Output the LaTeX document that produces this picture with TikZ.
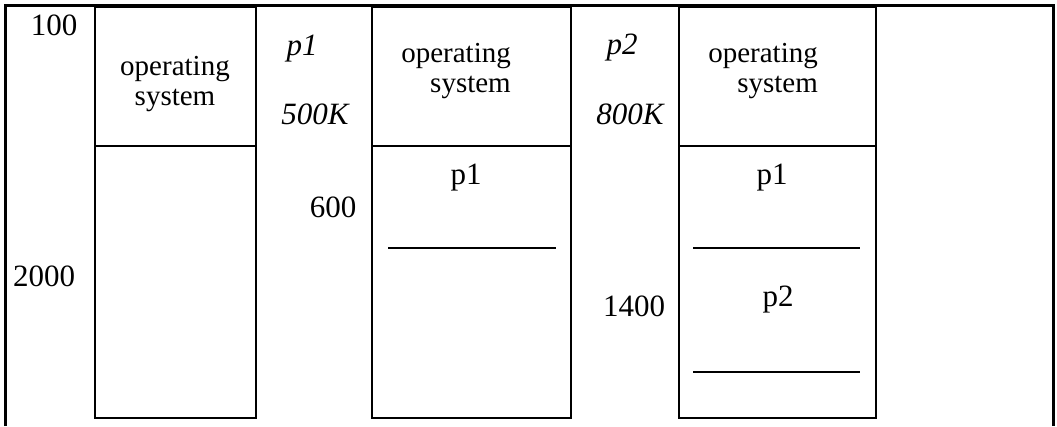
\documentclass[tikz,border=0pt]{standalone}
\usepackage{fontspec}
\setmainfont{Liberation Serif}
\begin{document}
\begin{tikzpicture}[x=1pt,y=-1pt]
\tikzstyle{every node}+=[inner sep=0pt, font=\fontsize{29}{30}\selectfont]
\tikzstyle{addr}=[font=\fontsize{31}{32}\selectfont]
\tikzstyle{memblock}=[black, line width=2.8pt]
\tikzstyle{osline}=[black, line width=2.2pt]
\tikzstyle{holeline}=[black, line width=1.4pt]
\useasboundingbox (0,0) rectangle (1057,426);
\draw [black, line width=2.8pt] (5.5,426) -- (5.5,5.5) -- (1053.5,5.5) -- (1053.5,426);
\draw [memblock] (95,7) rectangle (256,418);
\draw [osline] (95,146) -- (256,146);
\draw [memblock] (372,7) rectangle (571,418);
\draw [osline] (372,146) -- (571,146);
\draw [memblock] (679,7) rectangle (876,418);
\draw [osline] (679,146) -- (876,146);
\draw [holeline] (388,248) -- (556,248);
\draw [holeline] (693,248) -- (860,248);
\draw [holeline] (693,372) -- (860,372);
\node (a100) [addr] at (54,25) {100};
\node (a2000) [addr] at (44,276) {2000};
\node (os1) [align=center] at (175,84) {operating\\system};
\node (os2) [align=right, anchor=east] at (511,71) {operating\\system};
\node (os3) [align=right, anchor=east] at (818,71) {operating\\system};
\node (req1) [addr] at (302,48.5) {\itshape p1};
\node (size1) [addr] at (315,114) {\itshape 500K};
\node (a600) [addr] at (333,207) {600};
\node (req2) [addr] at (622,47.5) {\itshape p2};
\node (size2) [addr] at (630,114) {\itshape 800K};
\node (a1400) [addr] at (634,306) {1400};
\node (p1b) [addr] at (466,177.5) {p1};
\node (p1c) [addr] at (772,177.5) {p1};
\node (p2c) [addr] at (778,300) {p2};
\end{tikzpicture}
\end{document}
